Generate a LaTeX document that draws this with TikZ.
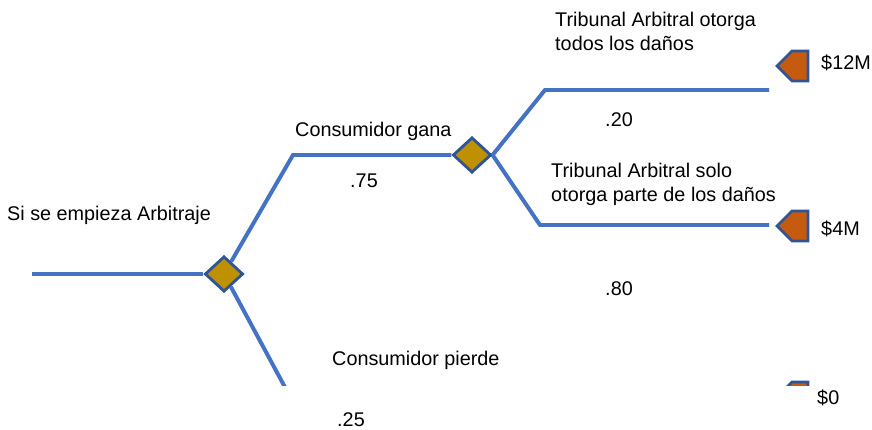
\documentclass[tikz,border=0pt]{standalone}
\usepackage{fontspec}
\setmainfont{Liberation Sans}
\usetikzlibrary{shapes.geometric,shapes.symbols}
\definecolor{branchblue}{HTML}{4472C4}
\definecolor{edgeblue}{HTML}{2F5597}
\definecolor{chancegold}{HTML}{BF9000}
\definecolor{endorange}{HTML}{C55A11}
\tikzset{
  branch/.style={branchblue,line width=3.4pt},
  chance/.style={diamond,draw=edgeblue,fill=chancegold,line width=2.4pt,
    minimum width=1.15cm,minimum height=1.06cm,inner sep=0pt},
  payoff/.style={signal,signal to=west,signal pointer angle=90,draw=edgeblue,
    fill=endorange,line width=2.4pt,minimum width=0.93cm,minimum height=0.9cm,inner sep=0pt},
  lbl/.style={font=\fontsize{16.9}{20.5}\selectfont,inner sep=0pt,align=left}
}

\begin{document}
\begin{tikzpicture}[x=0.03cm,y=-0.03cm]
    \useasboundingbox (0,0) rectangle (872,430);
    \begin{scope}
        \clip (0,0) rectangle (872,385);
        \node[chance] (c1) at (224,274) {};
        \node[chance] (c2) at (472,155) {};
        \coordinate (root) at (32,274);
        \coordinate (gana) at (293,155);
        \coordinate (pierde) at (294,404);
        \coordinate (todo) at (545,90);
        \coordinate (todoend) at (769,90);
        \coordinate (parte) at (540,225);
        \coordinate (parteend) at (769,225);
        \draw[branch] (root) -- (c1);
        \draw[branch] (c1) -- (gana) -- (c2);
        \draw[branch] (c1) -- (pierde);
        \draw[branch] (c2.east) -- (todo) -- (todoend);
        \draw[branch] (c2.east) -- (parte) -- (parteend);
        \foreach \name/\y in {p12/66,p4/226,p0/397}
            \node[payoff] (\name) at (800,\y) {};
    \end{scope}
    \node[lbl,anchor=base west] (startlbl) at (7,221) {Si se empieza Arbitraje};
    \node[lbl,anchor=base west] (ganalbl) at (295,137) {Consumidor gana};
    \node[lbl,anchor=base] (q75) at (364,188) {.75};
    \node[lbl,anchor=base west] (todolbl) at (555,51) {Tribunal Arbitral otorga\\todos los daños};
    \node[lbl,anchor=base] (q20) at (619,127) {.20};
    \node[lbl,anchor=base west] (partelbl) at (551,202) {Tribunal Arbitral solo\\otorga parte de los daños};
    \node[lbl,anchor=base] (q80) at (619,295) {.80};
    \node[lbl,anchor=base west] (pierdelbl) at (332,365) {Consumidor pierde};
    \node[lbl,anchor=base] (q25) at (351,426) {.25};
    \foreach \name/\x/\y/\val in {v12/821/70/\$12M,v4/821/236/\$4M,v0/817/404/\$0}
        \node[lbl,anchor=base west] (\name) at (\x,\y) {\val};
\end{tikzpicture}
\end{document}
